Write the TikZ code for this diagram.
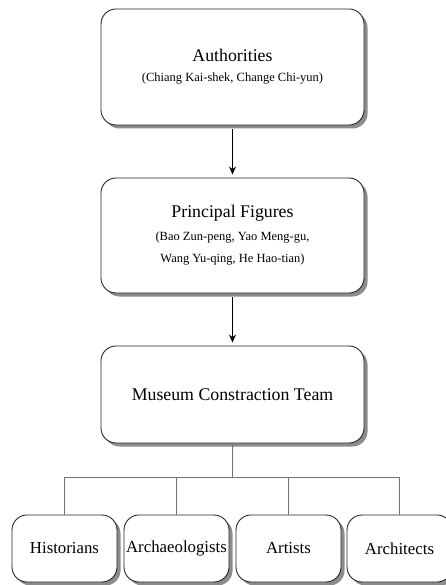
\documentclass[tikz,border=0pt]{standalone}
\usepackage{fontspec}
\setmainfont{Liberation Serif}
\newfontfamily\tnr{Liberation Serif}
\usetikzlibrary{shadows,arrows.meta}
\begin{document}
\begin{tikzpicture}[x=1pt,y=-1pt,
  box/.style={draw=black!85, line width=0.9pt, rounded corners=15pt, fill=white,
    drop shadow={shadow xshift=3.5pt, shadow yshift=-3.5pt, fill=black!45, opacity=1},
    align=center, inner sep=0pt},
  big/.style={box, minimum width=263pt},
  small/.style={box, minimum width=105pt, minimum height=67pt, font=\tnr\fontsize{16.8}{20}\selectfont},
  ttl/.style={font=\tnr\fontsize{17.8}{21}\selectfont},
  arr/.style={line width=1.1pt, -{Stealth[length=8pt,width=7pt]}, shorten <=4pt, shorten >=3pt},
  tree/.style={line width=0.8pt, draw=black!55}]
\useasboundingbox (0,0) rectangle (446,585);
\clip (0,0) rectangle (446,585);
\node[big, minimum height=116pt, font=\tnr\fontsize{12.5}{20}\selectfont] (auth) at (232.5,67)
  {{\tnr\fontsize{17.8}{20}\selectfont Authorities}\\(Chiang Kai-shek, Change Chi-yun)};
\node[big, minimum height=115pt, font=\tnr\fontsize{12.5}{22.5}\selectfont] (prin) at (232.5,235.5)
  {{\tnr\fontsize{17.8}{22.5}\selectfont Principal Figures}\\(Bao Zun-peng, Yao Meng-gu,\\Wang Yu-qing, He Hao-tian)};
\node[big, minimum height=97pt, ttl] (team) at (232.5,394.5) {Museum Constraction Team};
\node[small] (hist) at (64.5,548.5) {Historians};
\node[small] (arch) at (176.5,548.5) {Archaeologists};
\node[small] (art) at (288.5,548.5) {Artists};
\node[small] (archi) at (399.5,548.5) {Architects};
\draw[arr] (auth.south) -- (prin.north);
\draw[arr] (prin.south) -- (team.north);
\draw[tree] (team.south) -- ++(0,34) coordinate (j);
\draw[tree] (hist.north |- j) -- (archi.north |- j);
\draw[tree] (hist.north |- j) -- (hist.north);
\draw[tree] (arch.north |- j) -- (arch.north);
\draw[tree] (art.north |- j) -- (art.north);
\draw[tree] (archi.north |- j) -- (archi.north);
\end{tikzpicture}
\end{document}
